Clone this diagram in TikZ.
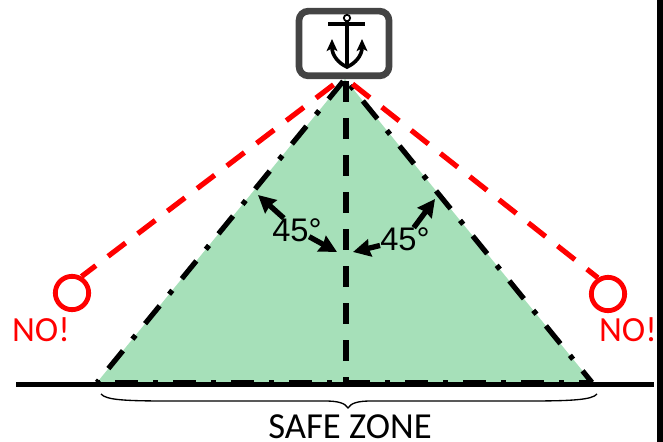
\documentclass[tikz,border=0pt]{standalone}
\usepackage{fontspec}
\setmainfont{Carlito}
\newfontfamily\anglefont{Liberation Sans}
\usetikzlibrary{arrows.meta}
\definecolor{ZoneGreen}{HTML}{A6E0B9}
\definecolor{BoxGray}{HTML}{444444}
\definecolor{NoRed}{HTML}{FF0000}
\begin{document}
\begin{tikzpicture}[
    x=0.75pt,
    y=-0.75pt,
    shipbox/.style={
      draw=BoxGray,
      fill=white,
      line width=5pt,
      minimum width=67.5pt,
      minimum height=48.5pt,
      rounded corners=7pt,
      inner sep=0pt
    },
    ring/.style={
      circle,
      draw=NoRed,
      line width=3.6pt,
      minimum size=25pt,
      inner sep=0pt
    },
    notext/.style={
      text=NoRed,
      font=\fontsize{26.5pt}{28pt}\selectfont,
      inner sep=0pt
    },
    angletext/.style={
      text=black,
      font=\anglefont\fontsize{24.5pt}{26pt}\selectfont,
      inner sep=0pt
    },
    zonetext/.style={
      font=\fontsize{27.5pt}{29pt}\selectfont,
      inner sep=0pt
    },
    nodash/.style={
      draw=NoRed,
      line width=3.9pt,
      dash pattern=on 16.5pt off 11.5pt
    },
    side/.style={
      line width=3.9pt,
      dash pattern=on 17.25pt off 11.25pt on 3.75pt off 11.25pt
    },
    arr/.style={
      {Stealth[length=13pt,width=13pt,inset=1pt]}-,
      line width=4pt
    },
    anchorline/.style={
      line width=2.7pt
    }
  ]
  \useasboundingbox (0,0) rectangle (663,442);

  % Corners
  \coordinate (apex) at (345,79);
  \coordinate (baseL) at (97,382.5);
  \coordinate (baseR) at (592,382.5);

  % Safe zone
  \fill[ZoneGreen] (apex) -- (baseL) -- (baseR) -- cycle;

  % Ground and edge
  \coordinate (groundL) at (16,384.5);
  \coordinate (groundR) at (654,384.5);
  \draw[line width=4pt] (groundL) -- (groundR);
  \coordinate (edgeT) at (660,0);
  \coordinate (edgeB) at (660,442);
  \draw[line width=4.2pt] (edgeT) -- (edgeB);

  % Black lines
  \draw[side,dash phase=30pt] (baseL) -- (apex);
  \draw[side,dash phase=6pt] (baseR) -- (apex);
  \draw[side,dash phase=30pt] (baseL) -- (baseR);
  \coordinate (midT) at (346,81);
  \coordinate (midB) at (346,382);
  \draw[line width=3.9pt,dash pattern=on 15.75pt off 12pt] (midT) -- (midB);

  % Ship
  \node[shipbox] (ship) at (344,43.5) {};
  \coordinate (ringC) at (347,18);
  \coordinate (barL) at (328,24);
  \coordinate (barR) at (365,24);
  \coordinate (shaftT) at (347,21);
  \coordinate (shaftB) at (347,66);
  \draw[line width=1.3pt] (ringC) circle (3.2);
  \draw[anchorline] (barL) -- (barR);
  \draw[anchorline] (shaftT) -- (shaftB);
  \draw[anchorline,{Stealth[length=9pt,width=8pt,inset=2pt]}-{Stealth[length=9pt,width=8pt,inset=2pt]}]
    (332,39) .. controls (332,55) and (338,63) .. (347,67)
    .. controls (356,63) and (362,55) .. (362,39);

  % Bad positions
  \node[ring] (ringL) at (72,293) {};
  \node[ring] (ringR) at (608,294) {};
  \node[notext] (noL) at (41,330) {NO!};
  \node[notext] (noR) at (628,330) {NO!};
  \coordinate (apexL) at (341,79);
  \coordinate (apexR) at (350,82);
  \draw[nodash,dash phase=3pt] (ringL.60) -- (apexL);
  \draw[nodash,dash phase=6pt] (ringR.122) -- (apexR);

  % Angles
  \node[angletext] (angL) at (297,230) {45°};
  \node[angletext] (angR) at (405,239.5) {45°};
  \coordinate (tipLa) at (258,195);
  \coordinate (tipLb) at (337,252);
  \coordinate (tipRa) at (353,252);
  \coordinate (tipRb) at (435,199);
  \draw[arr] (tipLa) -- (angL);
  \draw[arr,shorten >=-8pt] (tipLb) -- (angL);
  \draw[arr] (tipRa) -- (angR);
  \draw[arr] (tipRb) -- (angR);

  % Brace
  \coordinate (braceL) at (101,394);
  \coordinate (braceR) at (597,394);
  \coordinate (braceM) at (348,408);
  \draw[line width=1pt] (braceL) .. controls (106,400) and (125,401) .. (170,401)
    -- (325,401) .. controls (338,401) and (345,403) .. (braceM)
    .. controls (351,403) and (358,401) .. (371,401)
    -- (526,401) .. controls (571,401) and (592,400) .. (braceR);
  \node[zonetext] (zone) at (350,427) {SAFE ZONE};

\end{tikzpicture}
\end{document}
